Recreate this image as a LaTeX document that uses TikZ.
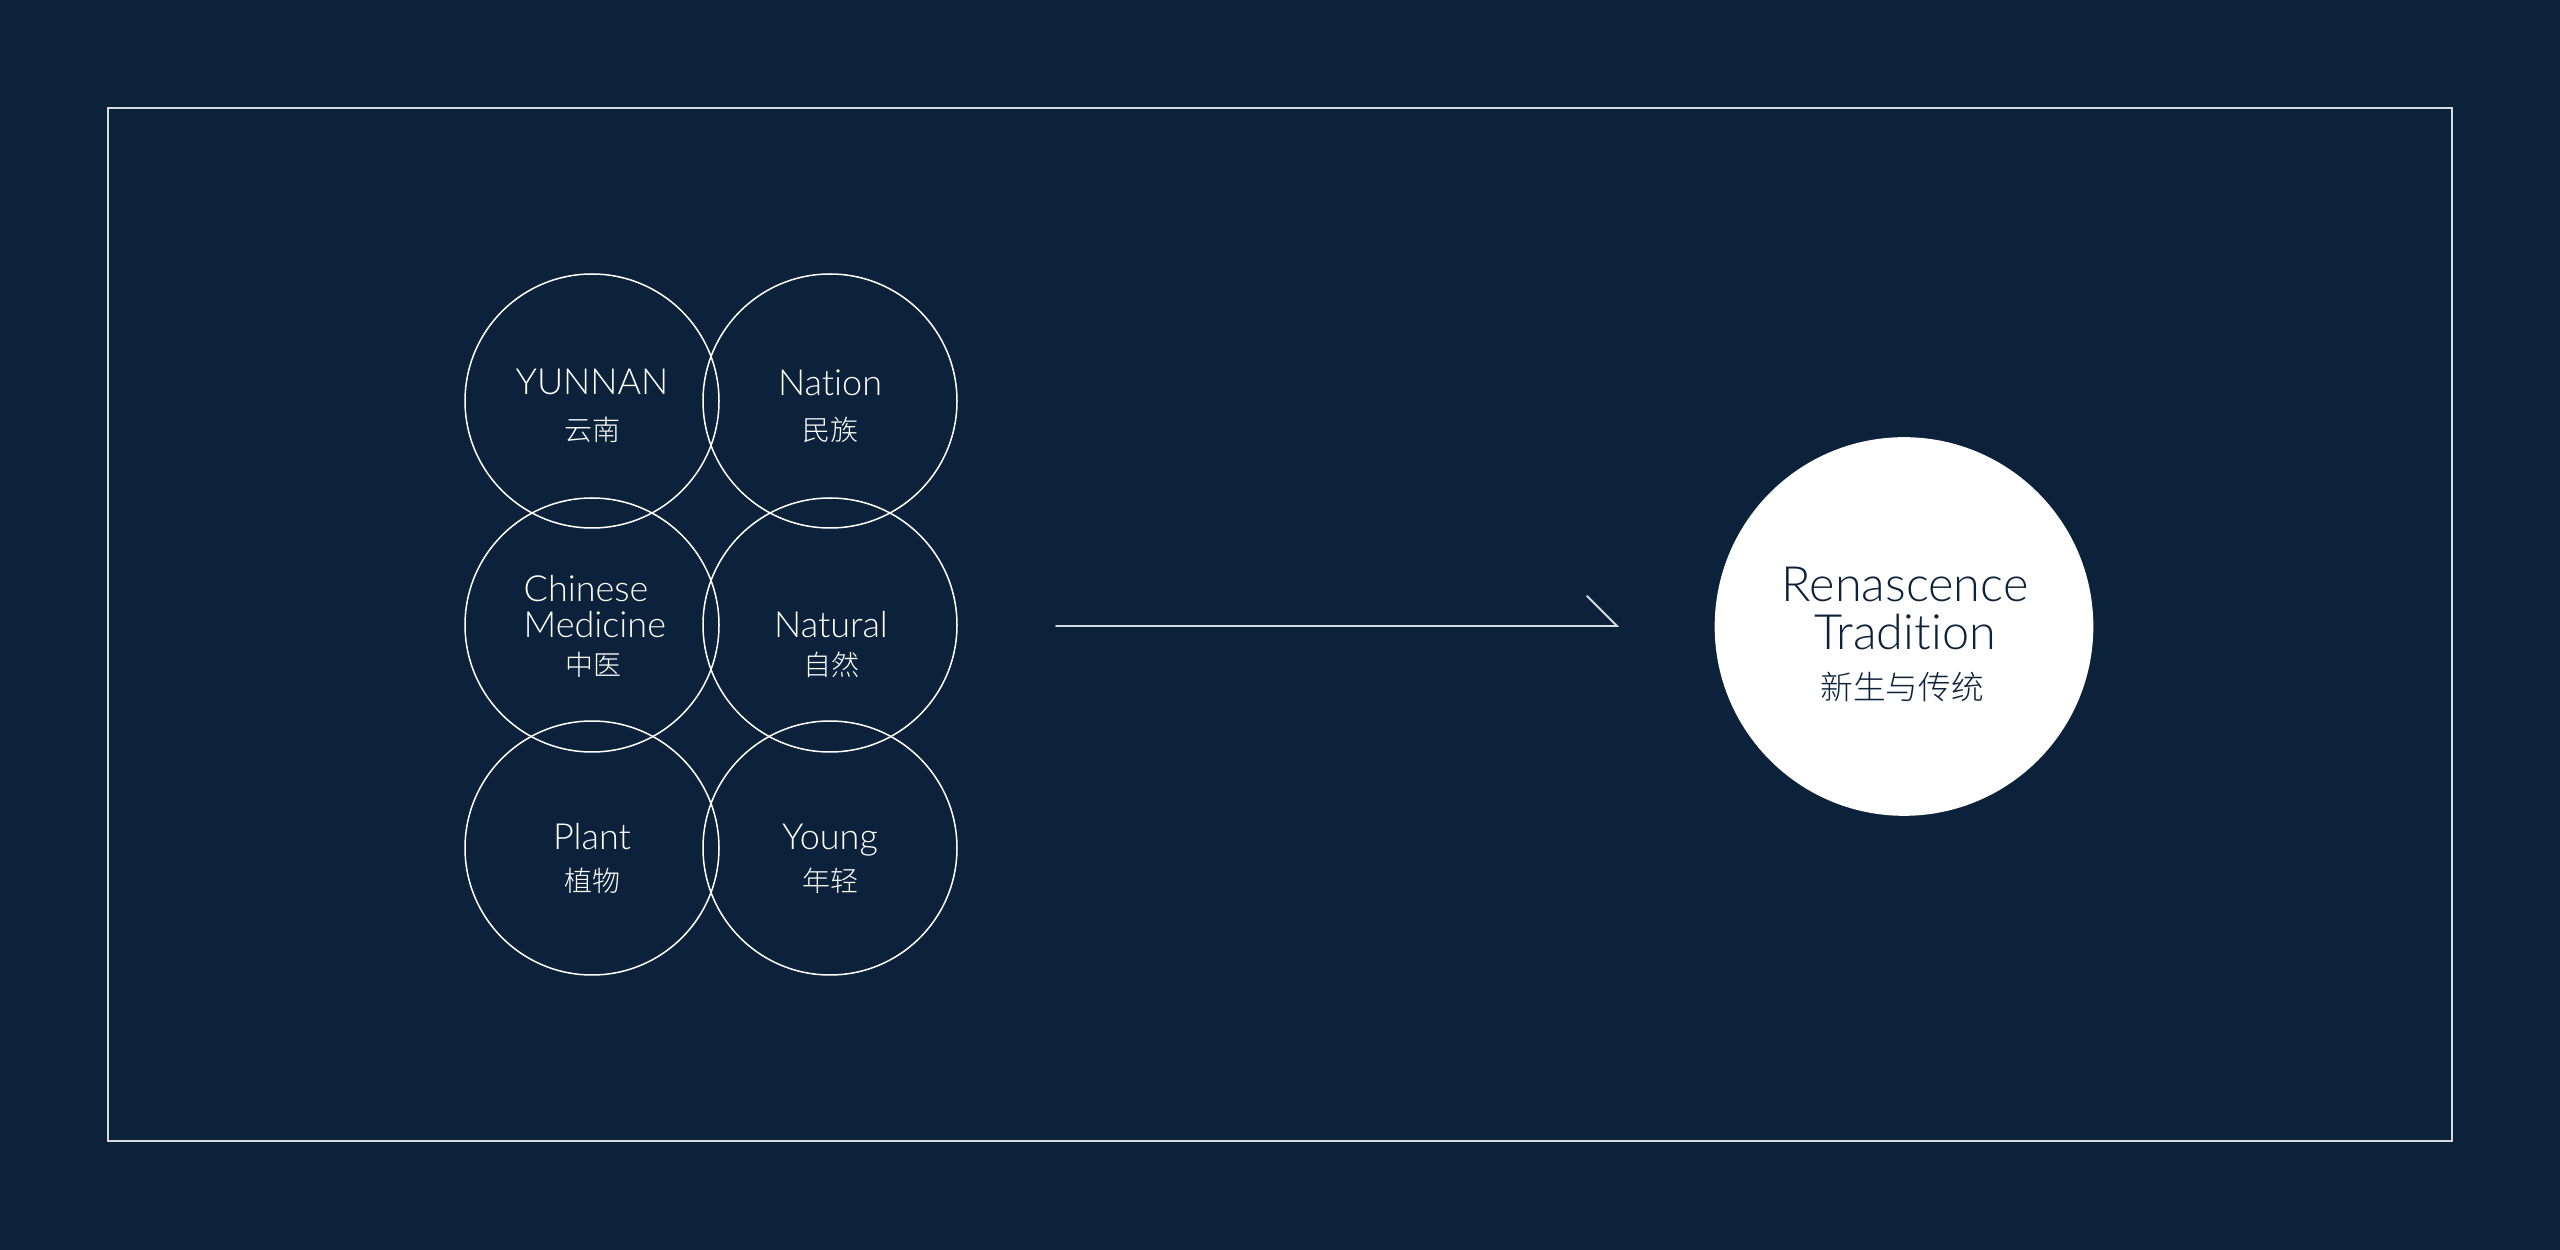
\documentclass[tikz,border=0pt]{standalone}
\usepackage{fontspec}
\setmainfont{Lato}[UprightFont=* Light, Ligatures={NoCommon}]
\newfontfamily\cjk{Noto Sans CJK SC}[UprightFont=* Light]
\definecolor{navy}{HTML}{0C223B}
\definecolor{framec}{HTML}{D6DCE2}
\begin{document}
\begin{tikzpicture}[x=0.3pt,y=-0.3pt,
  bubble/.style={circle, draw=white, line width=0.45pt, minimum size=76.2pt, inner sep=0pt},
  en/.style={anchor=base, inner sep=0pt, text=white, font=\fontsize{10.8}{10.8}\selectfont},
  enl/.style={anchor=base west, inner sep=0pt, text=white, font=\fontsize{10.8}{10.8}\selectfont},
  cn/.style={anchor=base, inner sep=0pt, text=white, font=\cjk\fontsize{8.4}{8.4}\selectfont},
  bigc/.style={circle, fill=white, minimum size=113.6pt, inner sep=0pt},
  ben/.style={anchor=base, inner sep=0pt, text=navy, font=\fontsize{14.6}{14.6}\selectfont},
  bcn/.style={anchor=base, inner sep=0pt, text=navy, font=\cjk\fontsize{9.8}{9.8}\selectfont},
  framebox/.style={draw=framec, line width=0.5pt},
  flow/.style={draw=framec, line width=0.55pt, line cap=round, line join=miter}]
\fill[navy] (0,0) rectangle (2560,1250);
\useasboundingbox (0,0) rectangle (2560,1250);
\draw[framebox] (108,108) rectangle (2452,1141);
% circles
\node[bubble] (yun) at (592,401) {};
\node[bubble] (nat) at (830,401) {};
\node[bubble] (med) at (592,625) {};
\node[bubble] (ntl) at (830,625) {};
\node[bubble] (pla) at (592,848) {};
\node[bubble] (you) at (830,848) {};
% labels
\node[en] (yun1) at (592,395) {YUNNAN};
\node[cn] (yun2) at (592,441) {云南};
\node[en] (nat1) at (830,396) {Nation};
\node[cn] (nat2) at (830,441) {民族};
\node[enl] (med1) at (523,602) {Chinese};
\node[enl] (med2) at (523,638) {Medicine};
\node[cn] (med3) at (593,676) {中医};
\node[en] (ntl1) at (831,638) {Natural};
\node[cn] (ntl2) at (831,676) {自然};
\node[en] (pla1) at (592,850) {Plant};
\node[cn] (pla2) at (592,891) {植物};
\node[en] (you1) at (830,850) {Young};
\node[cn] (you2) at (830,891) {年轻};
% result
\node[bigc] (ren) at (1904,626.5) {};
\node[ben] (ren1) at (1905,602) {Renascence};
\node[ben] (ren2) at (1905,650) {Tradition};
\node[bcn] (ren3) at (1902,700) {新生与传统};
% connector
\coordinate (a0) at (1056,626);
\coordinate (a1) at (1617,626);
\coordinate (a2) at (1587,596);
\draw[flow] (a0) -- (a1) -- (a2);
\end{tikzpicture}
\end{document}
